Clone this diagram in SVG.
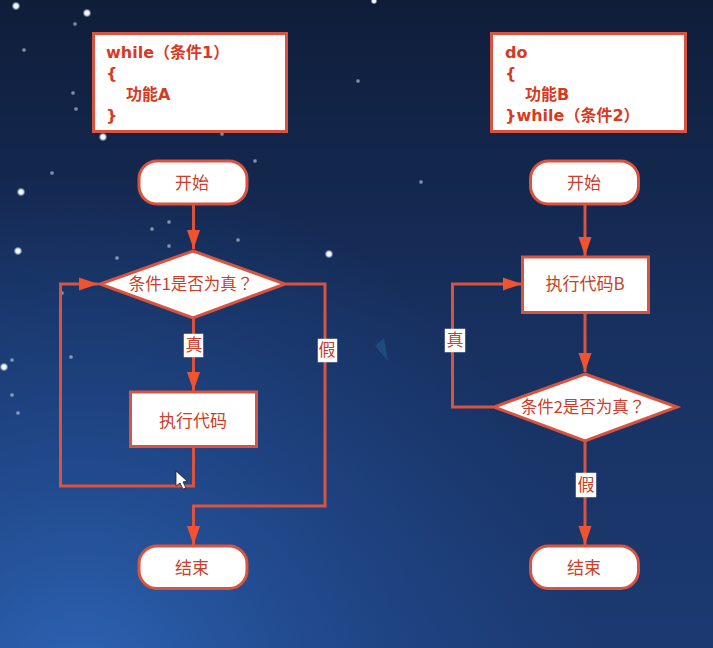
<svg xmlns="http://www.w3.org/2000/svg" width="713" height="648" viewBox="0 0 713 648">
<style>
.n{fill:#fff;stroke:#d9533f;stroke-width:3}
.c{fill:none;stroke:#d9533f;stroke-width:3}
.a{marker-end:url(#arrow)}
text{font-family:"Noto Sans CJK SC","DejaVu Sans",sans-serif;fill:#c93f2b}
.t{font-size:17px;text-anchor:middle}
.d{font-size:16.5px}
.b{font-family:"DejaVu Sans","Noto Sans CJK SC",sans-serif;font-size:16px;font-weight:700;fill:#d63a22}
.p{font-family:"Noto Sans CJK TC",sans-serif}
.l{fill:#fff;stroke:#e8eef8;stroke-width:.5}
</style>
<defs>
<linearGradient id="bg" x1="0" y1="0" x2="0" y2="1">
<stop offset="0" stop-color="#0f1d39"/><stop offset=".5" stop-color="#17305f"/><stop offset="1" stop-color="#1c3a72"/>
</linearGradient>
<radialGradient id="glow" gradientUnits="userSpaceOnUse" cx="80" cy="690" r="520">
<stop offset="0" stop-color="#2d66b8"/><stop offset=".5" stop-color="#25549f" stop-opacity=".55"/><stop offset="1" stop-color="#1f4a90" stop-opacity="0"/>
</radialGradient>
<radialGradient id="s"><stop offset="0" stop-color="#fff"/><stop offset=".5" stop-color="#e8f0fa"/><stop offset="1" stop-color="#9fb6d8" stop-opacity="0"/></radialGradient>
<marker id="arrow" markerUnits="userSpaceOnUse" markerWidth="20" markerHeight="14" refX="19" refY="7" orient="auto"><path d="M0 .5L19 7L0 13.500Z" fill="#f0532f"/></marker>
</defs>
<rect width="713" height="648" fill="url(#bg)"/>
<rect width="713" height="648" fill="url(#glow)"/>
<g id="stars" fill="url(#s)">
<circle cx="16" cy="6" r="4.500"/><circle cx="87" cy="13" r="4.500"/><circle cx="103" cy="137" r="4.500"/><circle cx="21" cy="192" r="4.500"/><circle cx="18" cy="251" r="4.500"/><circle cx="329" cy="254" r="4.500"/><circle cx="4" cy="367" r="4.500"/><circle cx="374" cy="1" r="3.500"/>
<g opacity=".5"><circle cx="75" cy="24" r="2.500"/><circle cx="24" cy="50" r="2.500"/><circle cx="73" cy="93" r="2.500"/><circle cx="76" cy="109" r="2.500"/><circle cx="222" cy="134" r="2.500"/><circle cx="255" cy="161" r="2.500"/><circle cx="52" cy="173" r="2.500"/><circle cx="169" cy="222" r="2.500"/><circle cx="152" cy="229" r="2.500"/><circle cx="238" cy="240" r="2.500"/><circle cx="169" cy="246" r="2.500"/><circle cx="117" cy="258" r="2.500"/><circle cx="62" cy="293" r="2.500"/><circle cx="12" cy="360" r="2.500"/><circle cx="71" cy="357" r="2.500"/><circle cx="12" cy="395" r="2.500"/><circle cx="18" cy="413" r="2.500"/><circle cx="358" cy="81" r="2.500"/><circle cx="421" cy="182" r="2.500"/></g>
</g>
<path id="mark" d="M384 338L375 346L388 361Z" fill="#1f6a94" opacity=".45"/>
<g id="connectors">
<path class="c a" d="M193.500 204V249"/>
<path class="c a" d="M193.500 447V486H60.500V284H98"/>
<path class="c a" d="M193.500 318V391"/>
<path class="c a" d="M286 284H325V506H193.500V545"/>
<path class="c a" d="M585 204V256"/>
<path class="c a" d="M585 313V372"/>
<path class="c a" d="M493 407H452.500V284H522"/>
<path class="c a" d="M585 442V545"/>
</g>
<g id="code-a"><rect class="n" x="93.500" y="33.500" width="193" height="98"/><text class="b" x="106" y="58">while<tspan class="p">（</tspan>条件1<tspan class="p">）</tspan></text><text class="b" x="106" y="79">{</text><text class="b" x="126" y="100">功能A</text><text class="b" x="106" y="121">}</text></g>
<g id="code-b"><rect class="n" x="491.500" y="33.500" width="194" height="98"/><text class="b" x="505" y="58">do</text><text class="b" x="505" y="79">{</text><text class="b" x="525" y="100">功能B</text><text class="b" x="505" y="121">}while<tspan class="p">（</tspan>条件2<tspan class="p">）</tspan></text></g>
<g id="start-a"><rect class="n" x="139" y="161" width="108" height="43" rx="18"/><text class="t" x="192" y="189">开始</text></g>
<g id="cond-a"><path class="n" d="M193 251L285 284L193 318L100 284Z"/><text class="t d" x="191" y="290">条件1是否为真<tspan class="p">？</tspan></text></g>
<g id="label-true-a"><rect class="l" x="184" y="334" width="19" height="23"/><text class="t" x="194" y="351">真</text></g>
<g id="label-false-a"><rect class="l" x="318" y="339" width="19" height="23"/><text class="t" x="327" y="356">假</text></g>
<g id="exec-a"><rect class="n" x="130.500" y="392" width="126" height="54.500"/><text class="t" x="193" y="427">执行代码</text></g>
<g id="end-a"><rect class="n" x="139" y="546" width="108" height="42.500" rx="18"/><text class="t" x="192" y="574">结束</text></g>
<g id="start-b"><rect class="n" x="530.500" y="161" width="108" height="43" rx="18"/><text class="t" x="584" y="189">开始</text></g>
<g id="exec-b"><rect class="n" x="522.500" y="257" width="126" height="55.500"/><text class="t" x="585" y="290">执行代码B</text></g>
<g id="label-true-b"><rect class="l" x="445" y="329" width="20" height="23"/><text class="t" x="455" y="346">真</text></g>
<g id="cond-b"><path class="n" d="M585 374L677 407L585 441L494 407Z"/><text class="t d" x="583" y="413">条件2是否为真<tspan class="p">？</tspan></text></g>
<g id="label-false-b"><rect class="l" x="576" y="473" width="20" height="24"/><text class="t" x="586" y="491">假</text></g>
<g id="end-b"><rect class="n" x="530.500" y="546" width="108" height="42.500" rx="18"/><text class="t" x="584" y="574">结束</text></g>
<path id="cursor" d="M176 471V486L180 483L183 489L186 488L183 482L187 481Z" fill="#fff" stroke="#222" stroke-width=".8"/>
</svg>
